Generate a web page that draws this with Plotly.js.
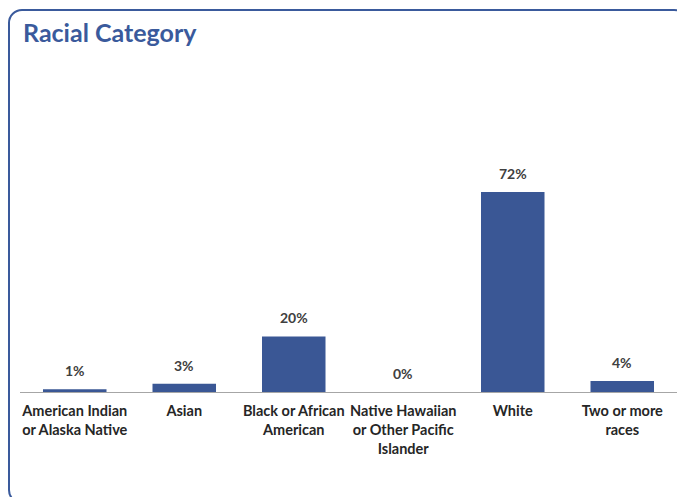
<!DOCTYPE html>
<html>
<head>
<meta charset="utf-8">
<script src="https://cdn.plot.ly/plotly-3.0.1.min.js"></script>
<style>
  html, body { margin: 0; padding: 0; background: #ffffff; overflow: hidden; }
  #wrap { position: relative; width: 677px; height: 497px; overflow: hidden; }
  #frame { position: absolute; left: 8px; top: 9px; width: 680px; height: 495px;
           border: 2.5px solid #3A5A9C; border-radius: 14px; box-sizing: border-box; }
  #chart { position: absolute; left: 0; top: 0; width: 677px; height: 497px; }
</style>
</head>
<body>
<div id="wrap">
  <div id="frame"></div>
  <div id="chart"></div>
</div>
<script>
const categories = [
  "American Indian<br>or Alaska Native",
  "Asian",
  "Black or African<br>American",
  "Native Hawaiian<br>or Other Pacific<br>Islander",
  "White",
  "Two or more<br>races"
];
const values = [1, 3, 20, 0, 72, 4];
const labels = ["1%", "3%", "20%", "0%", "72%", "4%"];

const FONT = "Lato, 'Open Sans', sans-serif";

const trace = {
  type: "bar",
  x: categories,
  y: values,
  marker: { color: "#3A5795" },
  hoverinfo: "skip"
};

const annotations = categories.map((c, i) => ({
  x: c, y: values[i], xref: "x", yref: "y",
  text: "<b>" + labels[i] + "</b>",
  showarrow: false, yanchor: "bottom", yshift: 8,
  font: { family: FONT, size: 14, color: "#404040" }
}));

const layout = {
  width: 677, height: 497,
  margin: { l: 20, r: 0, t: 60, b: 105 },
  paper_bgcolor: "rgba(0,0,0,0)",
  plot_bgcolor: "rgba(0,0,0,0)",
  bargap: 0.42,
  showlegend: false,
  title: {
    text: "<b>Racial Category</b>",
    x: 23 / 677, xref: "container", xanchor: "left",
    y: 1 - 33 / 497, yref: "container", yanchor: "middle",
    font: { family: FONT, size: 25, color: "#3A5A9C" }
  },
  xaxis: {
    type: "category",
    showline: true, linecolor: "#A6A6A6", linewidth: 1,
    ticks: "", showgrid: false, zeroline: false,
    ticklabelstandoff: 6,
    tickfont: { family: FONT, size: 14.5, color: "#262626", weight: "bold" },
    fixedrange: true
  },
  yaxis: {
    range: [0, 119.5],
    visible: false, showgrid: false, zeroline: false,
    fixedrange: true
  },
  annotations: annotations
};

Plotly.newPlot("chart", [trace], layout, { displayModeBar: false, staticPlot: true });
</script>
</body>
</html>
